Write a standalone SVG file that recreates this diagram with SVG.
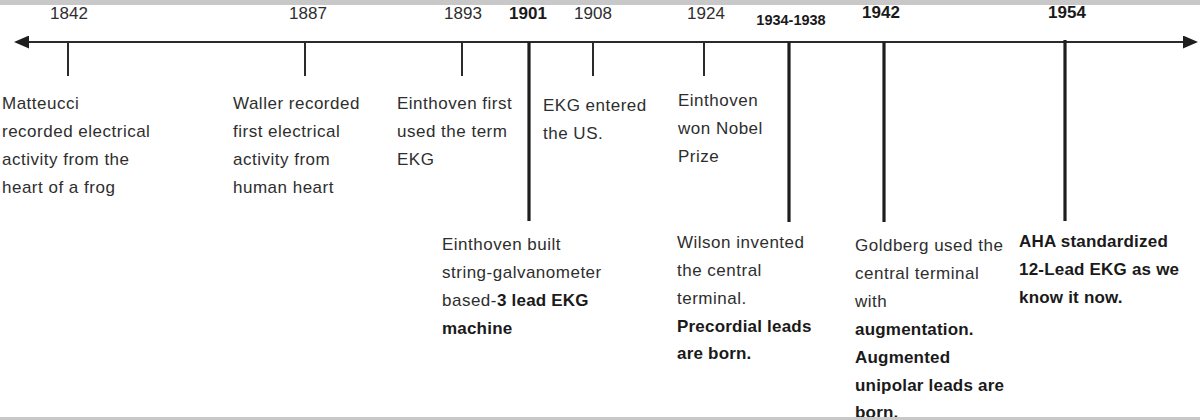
<svg xmlns="http://www.w3.org/2000/svg" width="1200" height="420" viewBox="0 0 1200 420">
<style>
text{font-family:"Liberation Sans",Arial,sans-serif;fill:#2e2e2e}
.yr{font-size:17px;text-anchor:middle}
.yb{font-size:17px;font-weight:bold;text-anchor:middle;fill:#1a1a1a}
.t{font-size:17px;letter-spacing:0.5px}
.b{font-weight:bold;fill:#1a1a1a;letter-spacing:0.2px}
.thin{stroke:#2a2a2a;stroke-width:2}
.thick{stroke:#1e1e1e;stroke-width:3.2}
</style>
<defs>
<marker id="ah" markerWidth="15" markerHeight="13" refX="13" refY="6.5" orient="auto-start-reverse" markerUnits="userSpaceOnUse">
<path d="M0,0 L15,6.5 L0,13 Z" fill="#1e1e1e"/>
</marker>
</defs>
<rect x="0" y="0" width="1200" height="420" fill="#fff"/>
<rect x="0" y="0" width="1200" height="5" fill="#c8c8c8"/>
<g id="connectors">
<line x1="16" y1="42" x2="1196" y2="42" stroke="#2a2a2a" stroke-width="2" marker-start="url(#ah)" marker-end="url(#ah)"/>
<line class="thin" x1="68" y1="42" x2="68" y2="76"/>
<line class="thin" x1="305" y1="42" x2="305" y2="76"/>
<line class="thin" x1="462" y1="42" x2="462" y2="76"/>
<line class="thin" x1="593" y1="42" x2="593" y2="76"/>
<line class="thin" x1="704" y1="42" x2="704" y2="76"/>
<line class="thick" x1="529" y1="42" x2="529" y2="221"/>
<line class="thick" x1="789" y1="42" x2="789" y2="222"/>
<line class="thick" x1="884" y1="42" x2="884" y2="222"/>
<line class="thick" x1="1065" y1="40" x2="1065" y2="221"/>
</g>
<g id="n1842">
<text class="yr" x="69" y="19">1842</text>
<text class="t"><tspan x="2" y="109">Matteucci</tspan><tspan x="2" y="137">recorded electrical</tspan><tspan x="2" y="165">activity from the</tspan><tspan x="2" y="193">heart of a frog</tspan></text>
</g>
<g id="n1887">
<text class="yr" x="308" y="19">1887</text>
<text class="t"><tspan x="233" y="109">Waller recorded</tspan><tspan x="233" y="137">first electrical</tspan><tspan x="233" y="165">activity from</tspan><tspan x="233" y="193">human heart</tspan></text>
</g>
<g id="n1893">
<text class="yr" x="463" y="19">1893</text>
<text class="t"><tspan x="397" y="109">Einthoven first</tspan><tspan x="397" y="137">used the term</tspan><tspan x="397" y="165">EKG</tspan></text>
</g>
<g id="n1901">
<text class="yb" x="528" y="19">1901</text>
<text class="t"><tspan x="442" y="250">Einthoven built</tspan><tspan x="442" y="278">string-galvanometer</tspan><tspan x="442" y="306">based-<tspan class="b">3 lead EKG</tspan></tspan><tspan class="b" x="442" y="334">machine</tspan></text>
</g>
<g id="n1908">
<text class="yr" x="593" y="19">1908</text>
<text class="t"><tspan x="543" y="111">EKG entered</tspan><tspan x="543" y="139">the US.</tspan></text>
</g>
<g id="n1924">
<text class="yr" x="706" y="19">1924</text>
<text class="t"><tspan x="678" y="106">Einthoven</tspan><tspan x="678" y="134">won Nobel</tspan><tspan x="678" y="162">Prize</tspan></text>
</g>
<g id="n1934">
<text class="yb" x="791" y="25" style="font-size:14.5px">1934-1938</text>
<text class="t"><tspan x="677" y="248">Wilson invented</tspan><tspan x="677" y="276">the central</tspan><tspan x="677" y="304">terminal.</tspan><tspan class="b" x="677" y="332">Precordial leads</tspan><tspan class="b" x="677" y="359">are born.</tspan></text>
</g>
<g id="n1942">
<text class="yb" x="881" y="18">1942</text>
<text class="t"><tspan x="855" y="251">Goldberg used the</tspan><tspan x="855" y="279">central terminal</tspan><tspan x="855" y="307">with</tspan><tspan class="b" x="855" y="335">augmentation.</tspan><tspan class="b" x="855" y="363">Augmented</tspan><tspan class="b" x="855" y="391">unipolar leads are</tspan><tspan class="b" x="855" y="418">born.</tspan></text>
</g>
<g id="n1954">
<text class="yb" x="1067" y="18">1954</text>
<text class="t b"><tspan x="1019" y="247">AHA standardized</tspan><tspan x="1019" y="275">12-Lead EKG as we</tspan><tspan x="1019" y="303">know it now.</tspan></text>
</g>
<rect x="0" y="417" width="1200" height="3" fill="#c8c8c8"/>
</svg>
